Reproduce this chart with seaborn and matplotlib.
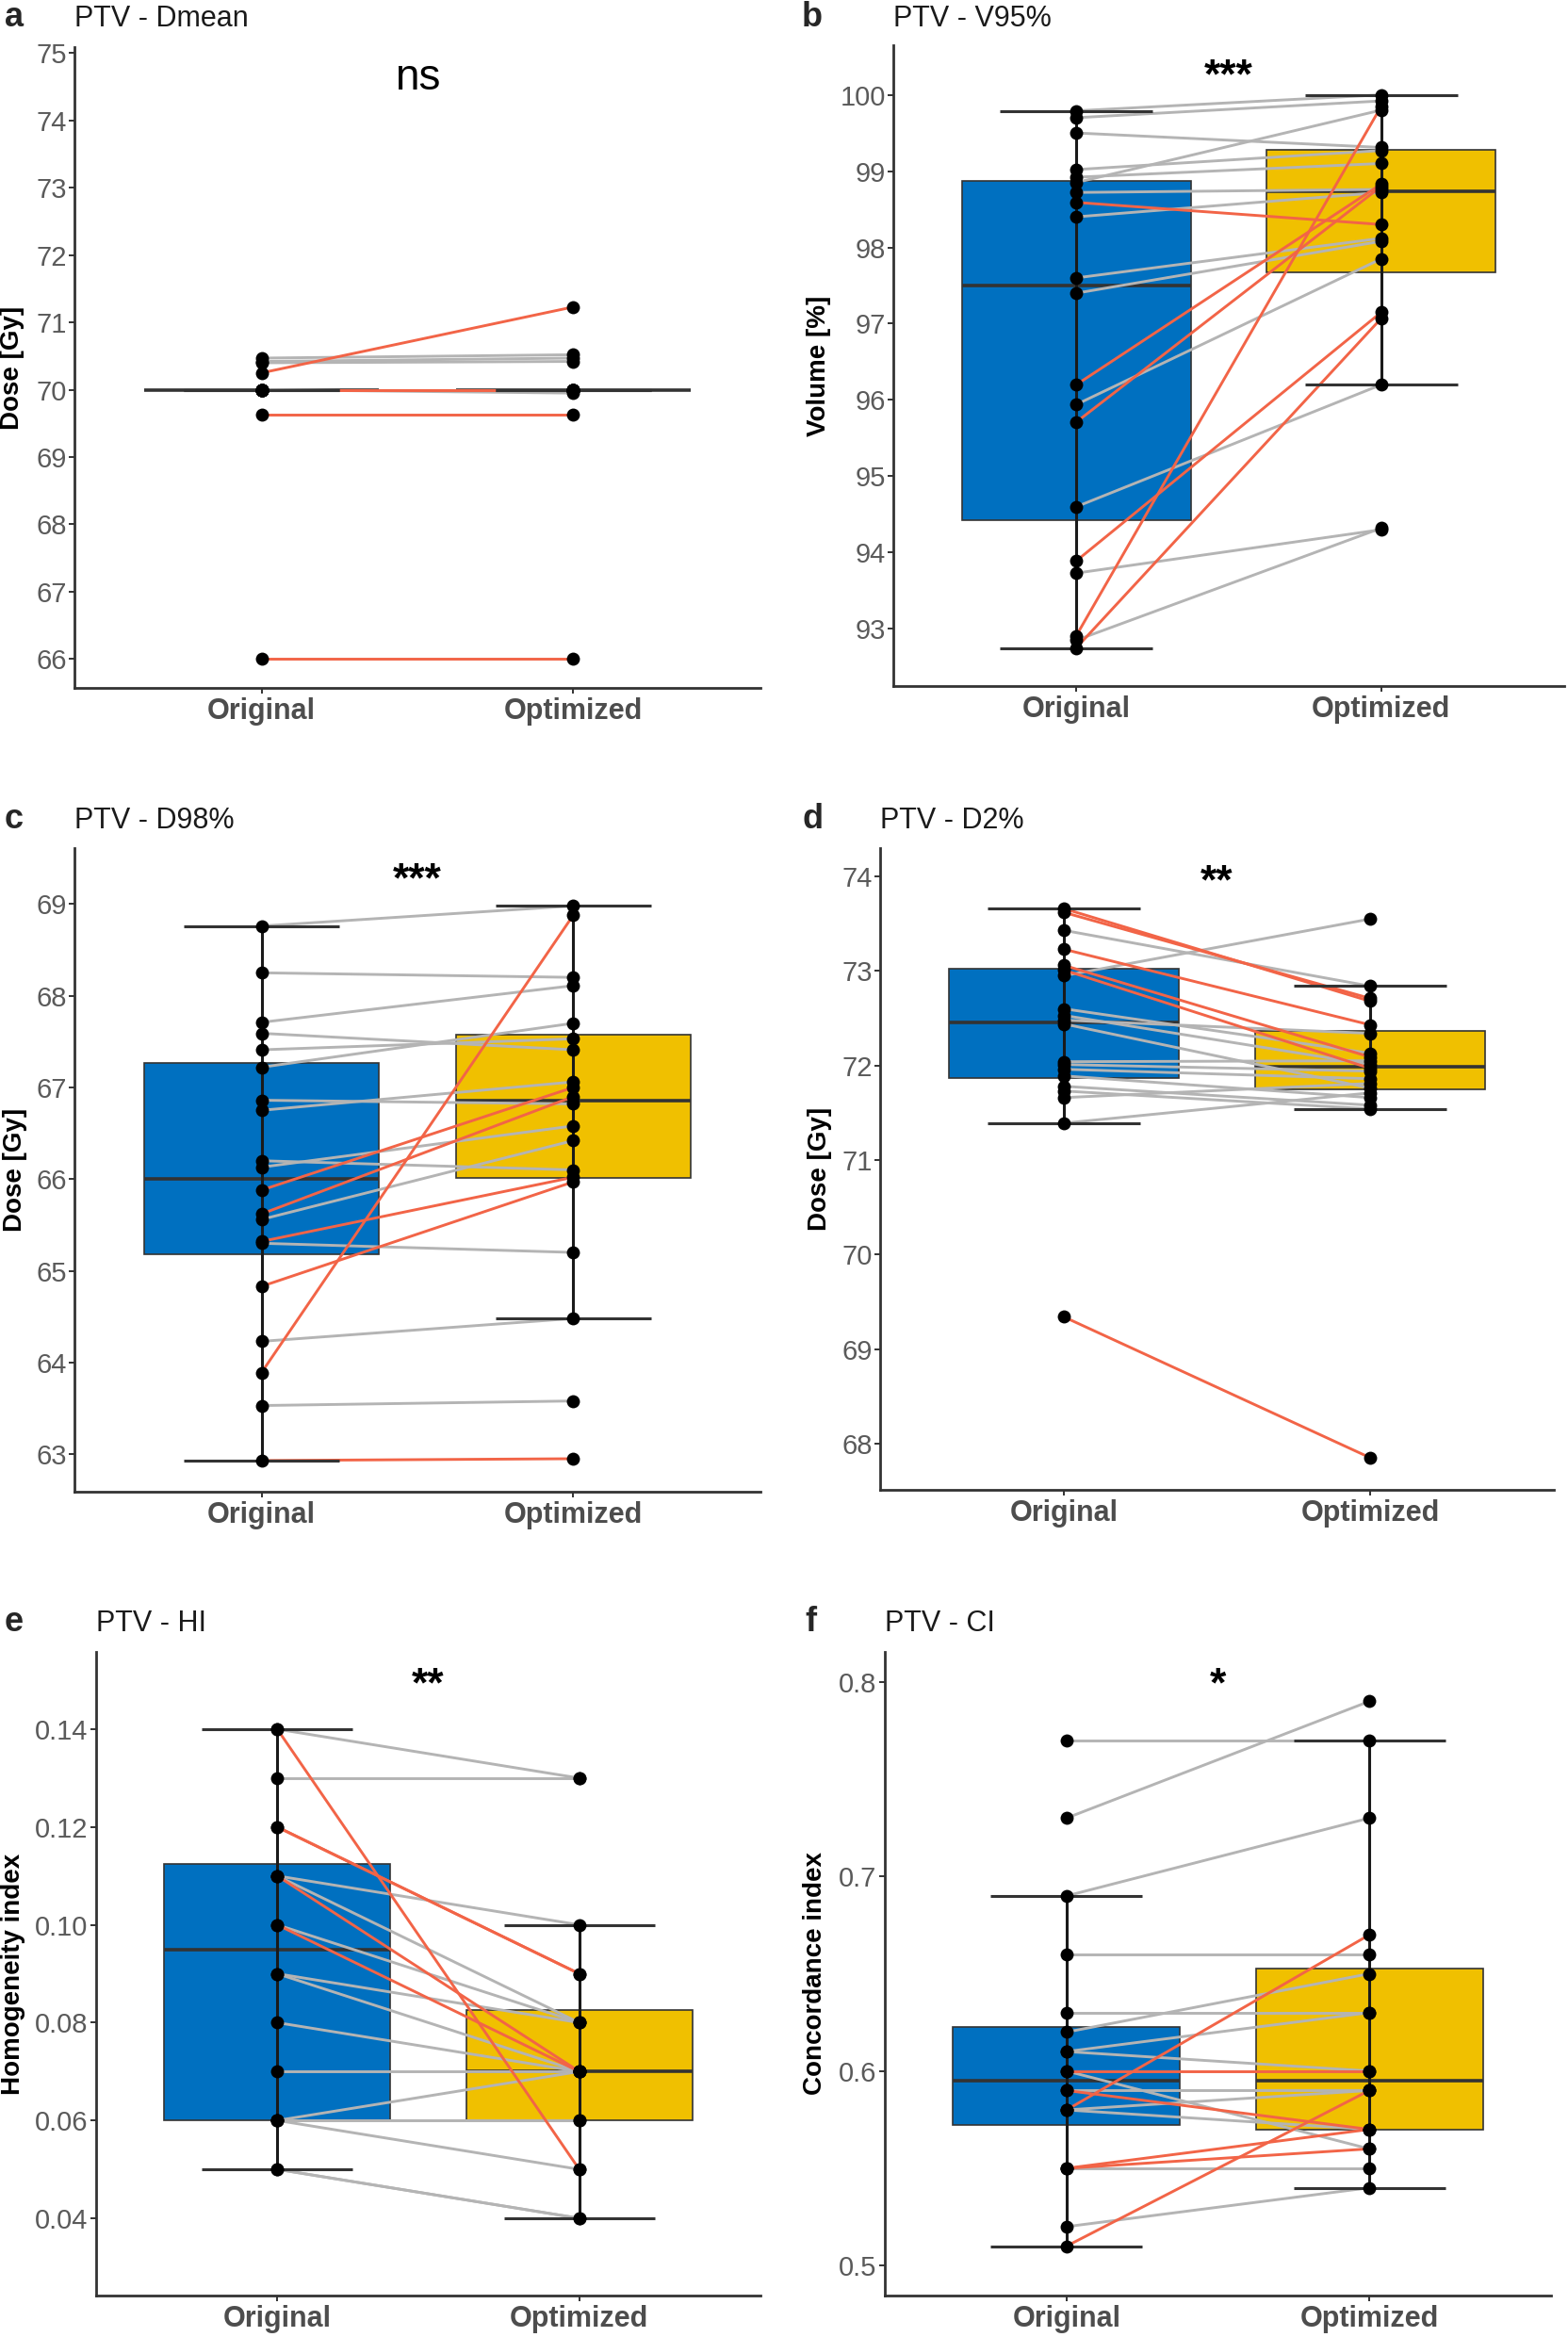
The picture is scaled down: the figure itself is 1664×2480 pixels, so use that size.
import matplotlib
matplotlib.use('Agg')
import matplotlib.pyplot as plt
from matplotlib import cbook
import seaborn as sns
import pandas as pd

# ---- data (paired: original[i] -> optimized[i], flag 1 = red line) ----
groups = ['Original', 'Optimized']

dmean_orig = [70.47, 70.42, 70.40, 70.25, 70.00, 70.00, 70.00, 69.63, 66.00, 70.00,
              70.00, 70.00, 70.00, 70.00, 70.00, 70.00, 70.00, 70.00, 70.00, 70.00]
dmean_opt = [70.52, 70.47, 70.42, 71.23, 70.00, 70.00, 70.00, 69.63, 66.00, 70.00,
             70.00, 70.00, 70.00, 70.00, 70.00, 70.00, 70.00, 70.00, 70.00, 69.95]
dmean_red = [0, 0, 0, 1, 1, 1, 1, 1, 1, 0, 0, 0, 0, 0, 0, 0, 0, 0, 0, 0]

v95_orig = [99.79, 99.70, 99.50, 99.02, 98.92, 98.85, 98.72, 98.59, 98.40, 97.60,
            97.40, 96.20, 95.94, 95.71, 94.60, 93.89, 93.73, 92.91, 92.85, 92.75]
v95_opt = [100.00, 99.92, 99.31, 99.27, 99.10, 99.80, 98.76, 98.30, 98.72, 98.12,
           98.08, 98.83, 97.85, 98.80, 96.20, 97.15, 94.30, 99.85, 94.32, 97.07]
v95_red = [0, 0, 0, 0, 0, 0, 0, 1, 0, 0, 0, 1, 0, 1, 0, 1, 0, 1, 0, 1]

d98_orig = [68.76, 68.25, 67.71, 67.59, 67.41, 67.22, 66.86, 66.75, 66.20, 66.13,
            65.88, 65.62, 65.56, 65.32, 65.30, 64.83, 64.23, 63.89, 63.53, 62.93]
d98_opt = [68.98, 68.20, 68.11, 67.41, 67.53, 67.70, 66.82, 67.06, 66.10, 66.58,
           67.00, 66.90, 66.42, 66.02, 65.20, 65.97, 64.48, 68.88, 63.58, 62.95]
d98_red = [0, 0, 0, 0, 0, 0, 0, 0, 0, 0, 1, 1, 0, 1, 0, 1, 0, 1, 0, 1]

d2_orig = [73.66, 73.62, 73.43, 73.23, 73.06, 73.01, 72.95, 72.60, 72.53, 72.48,
           72.44, 72.04, 72.01, 71.96, 71.89, 71.78, 71.73, 71.66, 71.39, 69.34]
d2_opt = [72.68, 72.71, 72.84, 72.43, 72.09, 71.97, 73.55, 72.13, 72.01, 72.34,
          71.76, 72.05, 71.94, 71.86, 71.66, 71.58, 71.54, 71.81, 71.71, 67.85]
d2_red = [1, 1, 0, 1, 1, 1, 0, 0, 0, 0, 0, 0, 0, 0, 0, 0, 0, 0, 0, 1]

hi_orig = [0.14, 0.14, 0.13, 0.12, 0.12, 0.11, 0.11, 0.11, 0.10, 0.10,
           0.09, 0.09, 0.08, 0.07, 0.06, 0.06, 0.06, 0.06, 0.05, 0.05]
hi_opt = [0.13, 0.05, 0.13, 0.09, 0.09, 0.10, 0.07, 0.08, 0.08, 0.07,
          0.07, 0.08, 0.07, 0.07, 0.06, 0.06, 0.05, 0.07, 0.04, 0.04]
hi_red = [0, 1, 0, 1, 1, 0, 1, 0, 0, 1, 0, 0, 0, 0, 0, 0, 0, 0, 0, 0]

ci_orig = [0.77, 0.73, 0.69, 0.66, 0.63, 0.62, 0.61, 0.61, 0.60, 0.60,
           0.59, 0.59, 0.58, 0.58, 0.58, 0.55, 0.55, 0.55, 0.52, 0.51]
ci_opt = [0.77, 0.79, 0.73, 0.66, 0.63, 0.65, 0.63, 0.60, 0.60, 0.56,
          0.57, 0.59, 0.67, 0.59, 0.57, 0.56, 0.57, 0.55, 0.54, 0.59]
ci_red = [0, 0, 0, 0, 0, 0, 0, 0, 1, 0, 1, 0, 1, 0, 0, 1, 1, 0, 0, 1]

titles = ['PTV - Dmean', 'PTV - V95%', 'PTV - D98%', 'PTV - D2%', 'PTV - HI', 'PTV - CI']
letters = ['a', 'b', 'c', 'd', 'e', 'f']
ylabels = ['Dose [Gy]', 'Volume [%]', 'Dose [Gy]', 'Dose [Gy]', 'Homogeneity index', 'Concordance index']
signif = ['ns', '***', '***', '**', '**', '*']

yticks_a = [66, 67, 68, 69, 70, 71, 72, 73, 74, 75]
yticks_b = [93, 94, 95, 96, 97, 98, 99, 100]
yticks_c = [63, 64, 65, 66, 67, 68, 69]
yticks_d = [68, 69, 70, 71, 72, 73, 74]
yticks_e = [0.04, 0.06, 0.08, 0.10, 0.12, 0.14]
ylabels_e = ['0.04', '0.06', '0.08', '0.10', '0.12', '0.14']
yticks_f = [0.5, 0.6, 0.7, 0.8]
ylabels_f = ['0.5', '0.6', '0.7', '0.8']

# ---- layout (pixels in the 1664x2480 canvas) ----
W, H = 1664, 2480
axes_px = [(79, 50, 807, 730), (948, 48, 1660, 728),
           (79, 900, 807, 1583), (934, 900, 1649, 1581),
           (102, 1753, 807, 2436), (939, 1753, 1646, 2436)]
letter_px = [(5, 28), (851, 28), (5, 879), (851, 879), (5, 1731), (854, 1731)]
ylims = [(65.57, 75.09), (92.25, 100.65), (62.59, 69.61), (67.51, 74.30),
         (0.0242, 0.1558), (0.4846, 0.8154)]
sig_pos = [(74.46, 'baseline', 33), (100.48, 'top', 32), (69.46, 'top', 32),
           (74.14, 'top', 32), (0.1528, 'top', 32), (0.8078, 'top', 32)]
ylabel_x = [-0.073, -0.093, -0.069, -0.071, -0.107, -0.086]

box_colors = {'Original': '#0070C0', 'Optimized': '#F0C000'}
line_colors = {'grey': '#B4B4B4', 'red': '#F26447'}

sns.set_style('white')
plt.rcParams['font.family'] = ['Liberation Sans', 'DejaVu Sans']


def draw_panel(ax, orig, opt, red):
    n = len(orig)
    df = pd.DataFrame({
        'pid': list(range(n)) * 2,
        'group': ['Original'] * n + ['Optimized'] * n,
        'value': orig + opt,
        'kind': ['red' if r else 'grey' for r in red] * 2,
    })
    sns.boxplot(data=df, x='group', y='value', hue='group', palette=box_colors, saturation=1,
                width=0.75, showfliers=False, showcaps=False, whiskerprops={'visible': False},
                linecolor='#333333', linewidth=1.2, medianprops={'linewidth': 2.6},
                legend=False, zorder=1, ax=ax)
    sns.lineplot(data=df, x='group', y='value', units='pid', estimator=None, hue='kind',
                 hue_order=['grey', 'red'], palette=line_colors, linewidth=2.1,
                 legend=False, ax=ax)
    # errorbar-style whiskers (stat_boxplot geom='errorbar')
    for i, g in enumerate(groups):
        st = cbook.boxplot_stats(df.loc[df['group'] == g, 'value'].values, whis=1.5)[0]
        ax.vlines(i, st['whislo'], st['whishi'], color='#1A1A1A', linewidth=2.2, zorder=3)
        ax.hlines([st['whislo'], st['whishi']], i - 0.25, i + 0.25,
                  color='#333333', linewidth=2.2, zorder=3)
    sns.stripplot(data=df, x='group', y='value', jitter=False, color='black', size=10,
                  linewidth=0, zorder=4, ax=ax)


fig = plt.figure(figsize=(W / 100, H / 100), dpi=100)

panel_data = [(dmean_orig, dmean_opt, dmean_red), (v95_orig, v95_opt, v95_red),
              (d98_orig, d98_opt, d98_red), (d2_orig, d2_opt, d2_red),
              (hi_orig, hi_opt, hi_red), (ci_orig, ci_opt, ci_red)]
tick_sets = [(yticks_a, [str(t) for t in yticks_a]), (yticks_b, [str(t) for t in yticks_b]),
             (yticks_c, [str(t) for t in yticks_c]), (yticks_d, [str(t) for t in yticks_d]),
             (yticks_e, ylabels_e), (yticks_f, ylabels_f)]

for k in range(6):
    l, t, r, b = axes_px[k]
    ax = fig.add_axes([l / W, 1 - b / H, (r - l) / W, (b - t) / H])
    orig, opt, red = panel_data[k]
    draw_panel(ax, orig, opt, red)

    ax.set_xlim(-0.6, 1.6)
    ax.set_ylim(ylims[k])
    ax.set_xticks([0, 1], groups)
    ax.set_yticks(tick_sets[k][0], tick_sets[k][1])
    ax.set_xlabel('')
    ax.set_ylabel(ylabels[k], fontsize=20, fontweight='bold', color='black')
    ax.yaxis.set_label_coords(ylabel_x[k], 0.5)

    sns.despine(ax=ax)
    for s in ['left', 'bottom']:
        ax.spines[s].set_color('#333333')
        ax.spines[s].set_linewidth(2.0)
    ax.tick_params(axis='y', labelsize=21, labelcolor='#5A5A5A', length=4, width=1.4,
                   color='#333333', pad=2, left=True)
    ax.tick_params(axis='x', labelsize=22, labelcolor='#4D4D4D', length=4, width=1.4,
                   color='#333333', pad=3, bottom=True)
    plt.setp(ax.get_xticklabels(), fontweight='bold')

    sy, sva, ssize = sig_pos[k]
    ax.text(0.5, sy, signif[k], ha='center', va=sva, fontsize=ssize, color='black',
            fontweight='normal' if signif[k] == 'ns' else 'bold')

    lx, ly = letter_px[k]
    fig.text(lx / W, 1 - ly / H, letters[k], fontsize=26, fontweight='bold',
             ha='left', va='baseline')
    fig.text(l / W, 1 - ly / H, titles[k], fontsize=22, ha='left', va='baseline',
             color='#1A1A1A')

fig.savefig('out.png', dpi=100)
